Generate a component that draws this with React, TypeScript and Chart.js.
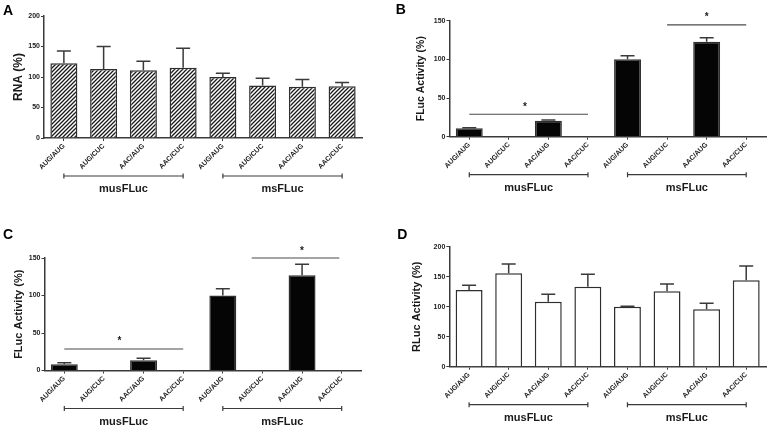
import React, { useEffect, useRef } from "react";
import { Chart, registerables } from "chart.js";

Chart.register(...registerables);

// ---------- data ----------
const categories = ["AUG/AUG", "AUG/CUC", "AAC/AUG", "AAC/CUC", "AUG/AUG", "AUG/CUC", "AAC/AUG", "AAC/CUC"];
const groupNames = ["musFLuc", "msFLuc"];
const groupStart = [0, 4];
const groupEnd = [3, 7];

// Panel A – RNA (%)
const rnaValues = [122.5, 113, 111, 115, 100, 86, 84, 85];
const rnaErrors = [20, 37, 15, 32, 6, 12, 12, 6];
// Panel B – FLuc Activity (%)
const flucBValues = [10.9, 0.6, 20.7, 0.6, 100, 0.8, 122.9, 0.8];
const flucBErrors = [0.6, 0, 0.8, 0, 4.8, 0, 5.1, 0];
const sigBFrom = [0, 5];
const sigBTo = [3, 7];
const sigBLevel = [29, 144.5];
const sigBStar = [1.41, 6.0];
// Panel C – FLuc Activity (%)
const flucCValues = [8.3, 0, 13.6, 0, 100, 0.4, 127, 0];
const flucCErrors = [2.1, 0, 2.7, 0, 9, 0, 14.6, 0];
const sigCFrom = [0, 4.73];
const sigCTo = [3, 6.94];
const sigCLevel = [28.7, 150];
const sigCStar = [1.39, 6.0];
// Panel D – RLuc Activity (%)
const rlucValues = [127.8, 155.6, 108.3, 133.3, 100, 125.6, 95.6, 144];
const rlucErrors = [7.8, 15.4, 12.3, 20.7, 0.8, 12.2, 10, 23.8];

const FONT = "'Liberation Sans', Arial, Helvetica, sans-serif";
const AX = "#3a3a3a";
const TXT = "#1a1a1a";

type Cfg = {
  left: number; top: number; width: number; height: number;
  letter: string; letterX: number; letterY: number;
  title: string; titleX: number; titleSize: number;
  values: number[]; errors: number[];
  max: number; step: number;
  fill: "hatch" | "black" | "white";
  area: { left: number; top: number; right: number; bottom: number };
  sigFrom?: number[]; sigTo?: number[]; sigLevel?: number[]; sigStar?: number[];
};

const panels: Cfg[] = [
  {
    left: 0, top: 0, width: 383, height: 212,
    letter: "A", letterX: 3, letterY: 15,
    title: "RNA (%)", titleX: 18.5, titleSize: 12,
    values: rnaValues, errors: rnaErrors, max: 200, step: 50, fill: "hatch",
    area: { left: 44, top: 16, right: 362, bottom: 138 },
  },
  {
    left: 384, top: 0, width: 383, height: 212,
    letter: "B", letterX: 11.7, letterY: 13.5,
    title: "FLuc Activity (%)", titleX: 37.3, titleSize: 10.5,
    values: flucBValues, errors: flucBErrors, max: 150, step: 50, fill: "black",
    area: { left: 65.5, top: 20.7, right: 382, bottom: 136.7 },
    sigFrom: sigBFrom, sigTo: sigBTo, sigLevel: sigBLevel, sigStar: sigBStar,
  },
  {
    left: 0, top: 212, width: 383, height: 213,
    letter: "C", letterX: 3, letterY: 26.7,
    title: "FLuc Activity (%)", titleX: 18.5, titleSize: 11,
    values: flucCValues, errors: flucCErrors, max: 150, step: 50, fill: "black",
    area: { left: 44.5, top: 46, right: 361.5, bottom: 158.5 },
    sigFrom: sigCFrom, sigTo: sigCTo, sigLevel: sigCLevel, sigStar: sigCStar,
  },
  {
    left: 384, top: 212, width: 383, height: 213,
    letter: "D", letterX: 13.3, letterY: 26.7,
    title: "RLuc Activity (%)", titleX: 33.3, titleSize: 11,
    values: rlucValues, errors: rlucErrors, max: 200, step: 50, fill: "white",
    area: { left: 65.3, top: 34.7, right: 382, bottom: 154.7 },
  },
];

function makeHatch(ctx: CanvasRenderingContext2D) {
  const c = document.createElement("canvas");
  c.width = 4;
  c.height = 4;
  const g = c.getContext("2d")!;
  g.fillStyle = "#ffffff";
  g.fillRect(0, 0, 4, 4);
  g.strokeStyle = "#1a1a1a";
  g.lineWidth = 1.3;
  g.beginPath();
  g.moveTo(0, 4); g.lineTo(4, 0);
  g.moveTo(-1, 1); g.lineTo(1, -1);
  g.moveTo(3, 5); g.lineTo(5, 3);
  g.stroke();
  return ctx.createPattern(c, "repeat");
}

function Panel({ cfg }: { cfg: Cfg }) {
  const ref = useRef<HTMLCanvasElement | null>(null);
  useEffect(() => {
    const canvas = ref.current!;
    const ctx = canvas.getContext("2d")!;
    const fill = cfg.fill === "hatch" ? makeHatch(ctx) : cfg.fill === "black" ? "#050505" : "#ffffff";
    const X_H = 40;
    const annot = {
      id: "annot",
      afterDatasetsDraw(chart: any) {
        const c = chart.ctx as CanvasRenderingContext2D;
        const xs = chart.scales.x;
        const ys = chart.scales.y;
        const meta = chart.getDatasetMeta(0);
        const area = chart.chartArea;
        c.save();
        // error bars
        c.strokeStyle = AX;
        c.lineWidth = 1.5;
        cfg.values.forEach((v, i) => {
          const e = cfg.errors[i];
          if (!e) return;
          const bx = meta.data[i].x;
          const y0 = ys.getPixelForValue(v);
          const y1 = ys.getPixelForValue(v + e);
          c.beginPath();
          c.moveTo(bx, y0);
          c.lineTo(bx, y1);
          c.moveTo(bx - 7, y1);
          c.lineTo(bx + 7, y1);
          c.stroke();
        });
        // significance lines
        if (cfg.sigFrom) {
          cfg.sigFrom.forEach((f, k) => {
            const yl = ys.getPixelForValue(cfg.sigLevel![k]);
            c.strokeStyle = "#4a4a4a";
            c.lineWidth = 1.2;
            c.beginPath();
            c.moveTo(xs.getPixelForValue(f), yl);
            c.lineTo(xs.getPixelForValue(cfg.sigTo![k]), yl);
            c.stroke();
            c.fillStyle = TXT;
            c.font = `bold 10px ${FONT}`;
            c.textAlign = "center";
            c.textBaseline = "alphabetic";
            c.fillText("*", xs.getPixelForValue(cfg.sigStar![k]), yl - 4.5);
          });
        }
        // group brackets
        const by = area.bottom + 38;
        groupNames.forEach((name, g) => {
          const x0 = xs.getPixelForValue(groupStart[g]);
          const x1 = xs.getPixelForValue(groupEnd[g]);
          c.strokeStyle = AX;
          c.lineWidth = 1.2;
          c.beginPath();
          c.moveTo(x0, by); c.lineTo(x1, by);
          c.moveTo(x0, by - 2.5); c.lineTo(x0, by + 2.5);
          c.moveTo(x1, by - 2.5); c.lineTo(x1, by + 2.5);
          c.stroke();
          c.fillStyle = TXT;
          c.font = `bold 11px ${FONT}`;
          c.textAlign = "center";
          c.textBaseline = "middle";
          c.fillText(name, (x0 + x1) / 2, area.bottom + 51);
        });
        // y title
        c.save();
        c.translate(cfg.titleX, (area.top + area.bottom) / 2);
        c.rotate(-Math.PI / 2);
        c.fillStyle = TXT;
        c.font = `bold ${cfg.titleSize}px ${FONT}`;
        c.textAlign = "center";
        c.textBaseline = "middle";
        c.fillText(cfg.title, 0, 0);
        c.restore();
        // panel letter
        c.fillStyle = "#000";
        c.font = `bold 14px ${FONT}`;
        c.textAlign = "left";
        c.textBaseline = "alphabetic";
        c.fillText(cfg.letter, cfg.letterX, cfg.letterY);
        c.restore();
      },
    };
    const chart = new Chart(canvas, {
      type: "bar",
      data: {
        labels: categories,
        datasets: [
          {
            data: cfg.values,
            backgroundColor: fill as any,
            borderColor: "#2e2e2e",
            borderWidth: 1.5,
            barPercentage: 0.68,
            categoryPercentage: 1,
          },
        ],
      },
      options: {
        responsive: false,
        animation: false,
        devicePixelRatio: 1,
        layout: {
          padding: {
            left: 0,
            top: cfg.area.top,
            right: cfg.width - cfg.area.right,
            bottom: cfg.height - cfg.area.bottom - X_H,
          },
        },
        plugins: { legend: { display: false }, tooltip: { enabled: false } },
        scales: {
          x: {
            offset: true,
            grid: { offset: false, drawOnChartArea: false, drawTicks: true, tickLength: 3, color: AX, lineWidth: 1 },
            border: { display: true, color: AX, width: 1.5 },
            ticks: {
              minRotation: 45,
              maxRotation: 45,
              autoSkip: false,
              padding: 1,
              color: TXT,
              font: { family: FONT, size: 7, weight: "bold" },
            },
            afterFit: (s: any) => { s.height = X_H; },
          },
          y: {
            min: 0,
            max: cfg.max,
            grid: { drawOnChartArea: false, drawTicks: true, tickLength: 3, color: AX, lineWidth: 1 },
            border: { display: true, color: AX, width: 1.5 },
            ticks: {
              stepSize: cfg.step,
              padding: 1,
              color: TXT,
              font: { family: FONT, size: 7, weight: "bold" },
            },
            afterFit: (s: any) => { s.width = cfg.area.left; },
          },
        },
      } as any,
      plugins: [annot],
    });
    return () => chart.destroy();
  }, [cfg]);
  return (
    <div style={{ position: "absolute", left: cfg.left, top: cfg.top, width: cfg.width, height: cfg.height }}>
      <canvas ref={ref} width={cfg.width} height={cfg.height} style={{ width: cfg.width, height: cfg.height, display: "block" }} />
    </div>
  );
}

export default function App() {
  return (
    <div style={{ position: "fixed", left: 0, top: 0, width: 767, height: 425, background: "#fff", overflow: "hidden" }}>
      {panels.map((p) => (
        <Panel key={p.letter} cfg={p} />
      ))}
    </div>
  );
}
